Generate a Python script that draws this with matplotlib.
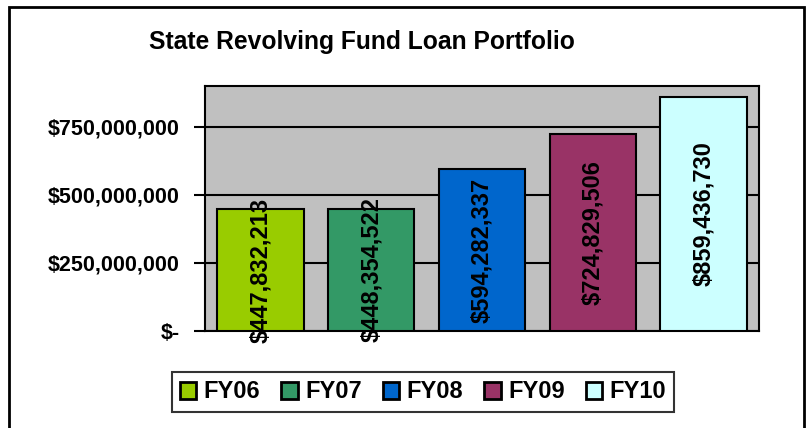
import matplotlib
matplotlib.use("Agg")
import matplotlib.pyplot as plt
from matplotlib.patches import Rectangle, Patch

categories = ["FY06", "FY07", "FY08", "FY09", "FY10"]
values = [447832213, 448354522, 594282337, 724829506, 859436730]
value_labels = ["$447,832,213", "$448,354,522", "$594,282,337", "$724,829,506", "$859,436,730"]
colors = ["#99CC00", "#339966", "#0066CC", "#993366", "#CCFFFF"]
yticks = [0, 250000000, 500000000, 750000000]
ytick_labels = ["$-", "$250,000,000", "$500,000,000", "$750,000,000"]
title = "State Revolving Fund Loan Portfolio"

plt.rcParams['font.family'] = ['Liberation Sans', 'DejaVu Sans']

fig = plt.figure(figsize=(8.12, 4.28), dpi=100)
W, H = 812, 428
ax = fig.add_axes([205 / W, 1 - 331 / H, (759 - 205) / W, (331 - 86) / H])
ax.set_facecolor("#C0C0C0")

x = list(range(len(categories)))
bars = ax.bar(x, values, width=0.78, color=colors, edgecolor="black", linewidth=1.5, zorder=3)
ax.set_xlim(-0.5, len(categories) - 0.5)
ax.set_ylim(0, 900000000)
ax.set_yticks(yticks)
ax.set_yticklabels(ytick_labels, fontsize=15.5, fontweight="bold")
ax.yaxis.grid(True, color="black", linewidth=1.5, zorder=1)
ax.set_axisbelow(True)
ax.set_xticks([])
ax.tick_params(axis="y", length=8, width=1.5, direction="out", pad=10)
for s in ax.spines.values():
    s.set_linewidth(1.5)
    s.set_color("black")

for xi, v, lab in zip(x, values, value_labels):
    ax.text(xi, v / 2, lab, rotation=90, ha="center", va="center",
            fontsize=17, fontweight="bold", color="black", zorder=4)

fig.text(362 / W, 1 - 42 / H, title, ha="center", va="center", fontsize=17.7, fontweight="bold")

handles = [Patch(facecolor=c, edgecolor="black", linewidth=2) for c in colors]
leg = fig.legend(handles, categories, loc="center", bbox_to_anchor=(423 / W, 1 - 392 / H),
                 ncol=5, prop={"weight": "bold", "size": 17},
                 handlelength=0.7, handleheight=0.7, handletextpad=0.3,
                 columnspacing=0.9, frameon=True, fancybox=False, borderpad=0.35)
leg.get_frame().set_edgecolor("black")
leg.get_frame().set_linewidth(1.5)

fig.patches.append(Rectangle((9 / W, -0.05), (804 - 9) / W, 1.05 - 7 / H, transform=fig.transFigure,
                             fill=False, edgecolor="black", linewidth=2))

fig.savefig("out.png", dpi=100)
